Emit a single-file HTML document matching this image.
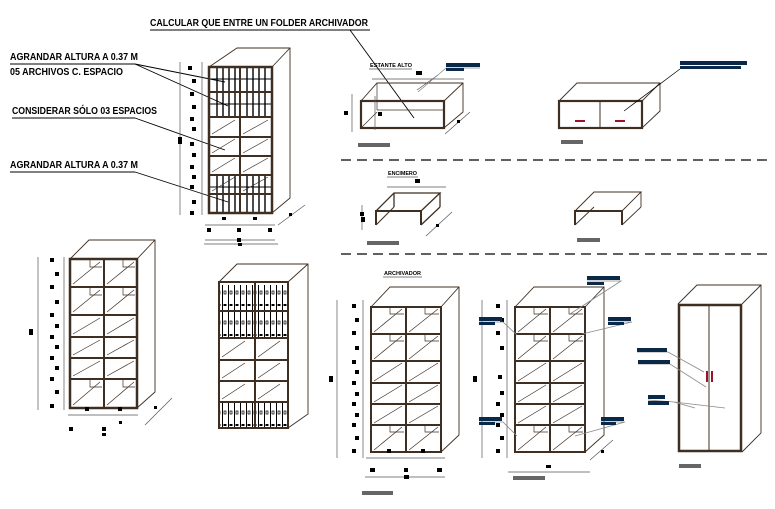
<!DOCTYPE html>
<html><head><meta charset="utf-8"><style>
html,body{margin:0;padding:0;background:#fff;width:775px;height:509px;overflow:hidden}
svg{display:block}
text{font-family:"Liberation Sans",sans-serif;font-weight:bold;fill:#000}
</style></head><body>
<svg width="775" height="509" viewBox="0 0 775 509" xmlns="http://www.w3.org/2000/svg">
<defs>
<pattern id="bind" width="6" height="30" patternUnits="userSpaceOnUse">
<rect x="0" y="0" width="6" height="30" fill="#fff"/>
<line x1="0.5" y1="0" x2="0.5" y2="30" stroke="#000" stroke-width="1"/>
<rect x="1.5" y="4" width="3" height="2" fill="#000"/>
<rect x="2" y="21" width="2" height="3" fill="none" stroke="#000" stroke-width="0.7"/>
</pattern>
<pattern id="bars" width="6" height="60" patternUnits="userSpaceOnUse">
<line x1="1" y1="0" x2="1" y2="60" stroke="#000" stroke-width="1.4"/>
</pattern>
</defs>
<text x="150" y="26" font-size="10" textLength="218" lengthAdjust="spacingAndGlyphs">CALCULAR QUE ENTRE UN FOLDER ARCHIVADOR</text>
<line x1="150" y1="30" x2="370" y2="30" stroke="#000"/>
<text x="10" y="60" font-size="10" textLength="128" lengthAdjust="spacingAndGlyphs">AGRANDAR ALTURA A 0.37 M</text>
<line x1="10" y1="64" x2="135" y2="64" stroke="#000"/>
<text x="10" y="75" font-size="10" textLength="113" lengthAdjust="spacingAndGlyphs">05 ARCHIVOS C. ESPACIO</text>
<text x="12" y="114" font-size="10" textLength="145" lengthAdjust="spacingAndGlyphs">CONSIDERAR SÓLO 03 ESPACIOS</text>
<line x1="12" y1="118" x2="135" y2="118" stroke="#000"/>
<text x="10" y="168" font-size="10" textLength="128" lengthAdjust="spacingAndGlyphs">AGRANDAR ALTURA A 0.37 M</text>
<line x1="10" y1="172" x2="135" y2="172" stroke="#000"/>
<g stroke="#000" stroke-width="0.9">
<line x1="135" y1="64" x2="225" y2="82"/>
<line x1="135" y1="64" x2="228" y2="106"/>
<line x1="135" y1="118" x2="225" y2="150"/>
<line x1="135" y1="172" x2="228" y2="202"/>
<line x1="350" y1="30" x2="414" y2="118"/>
</g>

<g stroke="#000" stroke-width="1.2" stroke-dasharray="10,6">
<line x1="341" y1="160" x2="768" y2="160"/>
<line x1="341" y1="254" x2="768" y2="254"/>
</g>

<g font-size="5">
<text x="370" y="67" textLength="42" lengthAdjust="spacingAndGlyphs">ESTANTE ALTO</text>
<text x="388" y="175" textLength="29" lengthAdjust="spacingAndGlyphs">ENCIMERO</text>
<text x="384" y="275" textLength="37" lengthAdjust="spacingAndGlyphs">ARCHIVADOR</text>
</g>
<g stroke="#000" stroke-width="0.6">
<line x1="369" y1="69" x2="412" y2="69"/>
<line x1="387" y1="177" x2="418" y2="177"/>
<line x1="383" y1="277" x2="422" y2="277"/>
</g>

<!-- Cabinet 1 -->
<g stroke="#3f2f22" fill="none">
<polyline points="209,67 237,48 290,48 290,198 272,213" stroke-width="0.9"/>
<line x1="272" y1="67" x2="290" y2="48" stroke-width="0.9"/>
</g>
<rect x="212" y="68" width="26" height="48" fill="url(#bars)"/>
<rect x="243" y="68" width="27" height="48" fill="url(#bars)"/>
<rect x="212" y="176" width="26" height="37" fill="url(#bars)"/>
<rect x="243" y="176" width="27" height="37" fill="url(#bars)"/>
<g stroke="#000" stroke-width="1"><line x1="209" y1="79" x2="272" y2="79"/><line x1="209" y1="104" x2="272" y2="104"/><line x1="209" y1="187" x2="272" y2="187"/></g>
<g stroke="#3f2f22" fill="none">
<rect x="209" y="67" width="63" height="146" stroke-width="2.5"/>
<line x1="240" y1="67" x2="240" y2="213" stroke-width="2"/>
<g stroke-width="2"><line x1="209" y1="92" x2="272" y2="92"/><line x1="209" y1="117" x2="272" y2="117"/><line x1="209" y1="137" x2="272" y2="137"/><line x1="209" y1="156" x2="272" y2="156"/><line x1="209" y1="175" x2="272" y2="175"/><line x1="209" y1="194" x2="272" y2="194"/></g>
<g stroke-width="0.7"><line x1="212" y1="134" x2="235" y2="120"/><line x1="243" y1="134" x2="268" y2="120"/><line x1="212" y1="153" x2="235" y2="139"/><line x1="243" y1="153" x2="268" y2="139"/><line x1="212" y1="172" x2="235" y2="158"/><line x1="243" y1="172" x2="268" y2="158"/><line x1="212" y1="191" x2="235" y2="177"/><line x1="243" y1="191" x2="268" y2="177"/></g>
</g>
<g stroke="#555" stroke-width="0.7">
<line x1="180" y1="62" x2="180" y2="215"/><line x1="202" y1="62" x2="202" y2="215"/>
<line x1="205" y1="225" x2="275" y2="225"/><line x1="205" y1="240" x2="275" y2="240"/>
<line x1="278" y1="225" x2="305" y2="205"/>
</g>
<g fill="#000">
<rect x="188" y="66" width="4" height="4"/><rect x="192" y="79" width="4" height="4"/><rect x="190" y="92" width="4" height="4"/><rect x="192" y="105" width="4" height="4"/><rect x="190" y="117" width="4" height="4"/><rect x="192" y="127" width="4" height="4"/><rect x="178" y="137" width="4" height="7"/><rect x="190" y="142" width="4" height="4"/><rect x="192" y="153" width="4" height="4"/><rect x="190" y="165" width="4" height="4"/><rect x="192" y="175" width="4" height="4"/><rect x="190" y="185" width="4" height="4"/><rect x="192" y="200" width="4" height="4"/><rect x="190" y="211" width="4" height="4"/>
<rect x="222" y="217" width="4" height="3"/><rect x="253" y="217" width="4" height="3"/>
<rect x="207" y="228" width="4" height="4"/><rect x="237" y="228" width="4" height="4"/><rect x="268" y="228" width="4" height="4"/><rect x="237" y="238" width="4" height="4"/><rect x="289" y="213" width="3" height="3"/>
</g>

<!-- Cabinet 2 -->
<g stroke="#3f2f22" fill="none">
<polyline points="70,259 89,240 155,240 155,392 137,408" stroke-width="0.9"/>
<line x1="137" y1="259" x2="155" y2="240" stroke-width="0.9"/>
<rect x="70" y="259" width="67" height="149" stroke-width="2.5"/>
<line x1="104" y1="259" x2="104" y2="408" stroke-width="2"/>
<g stroke-width="2"><line x1="70" y1="287" x2="137" y2="287"/><line x1="70" y1="315" x2="137" y2="315"/><line x1="70" y1="337" x2="137" y2="337"/><line x1="70" y1="358" x2="137" y2="358"/><line x1="70" y1="379" x2="137" y2="379"/></g>
<g stroke-width="0.7"><line x1="73" y1="284" x2="100" y2="262"/><line x1="107" y1="284" x2="134" y2="262"/><line x1="73" y1="312" x2="100" y2="290"/><line x1="107" y1="312" x2="134" y2="290"/><line x1="73" y1="334" x2="100" y2="318"/><line x1="107" y1="334" x2="134" y2="318"/><line x1="73" y1="355" x2="100" y2="340"/><line x1="107" y1="355" x2="134" y2="340"/><line x1="73" y1="376" x2="100" y2="361"/><line x1="107" y1="376" x2="134" y2="361"/><line x1="73" y1="405" x2="100" y2="382"/><line x1="107" y1="405" x2="134" y2="382"/>
<polyline points="90,260 90,267 102,267"/><polyline points="123,260 123,267 135,267"/><polyline points="90,288 90,295 102,295"/><polyline points="123,288 123,295 135,295"/><polyline points="90,380 90,387 102,387"/><polyline points="123,380 123,387 135,387"/></g>
</g>
<g stroke="#555" stroke-width="0.7"><line x1="38" y1="257" x2="38" y2="410"/><line x1="64" y1="257" x2="64" y2="410"/><line x1="68" y1="415" x2="138" y2="415"/><line x1="145" y1="425" x2="172" y2="398"/></g>
<g fill="#000"><rect x="50" y="258" width="4" height="4"/><rect x="55" y="272" width="4" height="4"/><rect x="50" y="285" width="4" height="4"/><rect x="55" y="300" width="4" height="4"/><rect x="50" y="313" width="4" height="4"/><rect x="29" y="329" width="4" height="6"/><rect x="55" y="324" width="4" height="4"/><rect x="50" y="335" width="4" height="4"/><rect x="55" y="345" width="4" height="4"/><rect x="50" y="356" width="4" height="4"/><rect x="55" y="366" width="4" height="4"/><rect x="50" y="377" width="4" height="4"/><rect x="55" y="390" width="4" height="4"/><rect x="50" y="404" width="4" height="4"/><rect x="85" y="407" width="4" height="4"/><rect x="118" y="407" width="4" height="4"/><rect x="69" y="427" width="4" height="4"/><rect x="102" y="427" width="4" height="4"/><rect x="102" y="433" width="4" height="3"/><rect x="119" y="421" width="3" height="3"/><rect x="154" y="406" width="3" height="3"/></g>

<!-- Cabinet 3 -->
<g stroke="#555" stroke-width="0.7"><line x1="204" y1="244" x2="278" y2="244"/></g>
<rect x="238" y="243" width="4" height="3" fill="#000"/>
<g stroke="#3f2f22" fill="none">
<polyline points="219,282 237,264 308,264 308,414 288,428" stroke-width="0.9"/>
<line x1="288" y1="282" x2="308" y2="264" stroke-width="0.9"/>
</g>
<rect x="220" y="285" width="34" height="25" fill="url(#bind)"/><rect x="256" y="285" width="32" height="25" fill="url(#bind)"/>
<rect x="220" y="312" width="34" height="25" fill="url(#bind)"/><rect x="256" y="312" width="32" height="25" fill="url(#bind)"/>
<rect x="220" y="403" width="34" height="25" fill="url(#bind)"/><rect x="256" y="403" width="32" height="25" fill="url(#bind)"/>
<g stroke="#3f2f22" fill="none">
<rect x="219" y="282" width="69" height="146" stroke-width="2"/>
<line x1="255" y1="282" x2="255" y2="428" stroke-width="2"/>
<g stroke-width="2"><line x1="219" y1="311" x2="288" y2="311"/><line x1="219" y1="338" x2="288" y2="338"/><line x1="219" y1="360" x2="288" y2="360"/><line x1="219" y1="381" x2="288" y2="381"/><line x1="219" y1="402" x2="288" y2="402"/></g>
<g stroke-width="0.7"><line x1="222" y1="357" x2="245" y2="341"/><line x1="258" y1="357" x2="280" y2="341"/><line x1="222" y1="378" x2="245" y2="363"/><line x1="258" y1="378" x2="280" y2="363"/><line x1="222" y1="399" x2="245" y2="384"/><line x1="258" y1="399" x2="280" y2="384"/></g>
</g>

<!-- Estante alto -->
<g stroke="#3f2f22" fill="none">
<polyline points="361,101 377,83 463,83 463,112 444,128" stroke-width="0.9"/>
<line x1="444" y1="101" x2="463" y2="83" stroke-width="0.9"/>
<line x1="361" y1="128" x2="377" y2="112" stroke-width="0.7"/><line x1="377" y1="83" x2="377" y2="110" stroke-width="0.7"/><line x1="377" y1="110" x2="444" y2="110" stroke-width="0.7"/>
<rect x="361" y="101" width="83" height="27" stroke-width="2.2"/>
<polyline points="559,101 577,83 660,83 660,111 642,128" stroke-width="0.9"/>
<line x1="642" y1="101" x2="660" y2="83" stroke-width="0.9"/>
<rect x="559" y="101" width="83" height="27" stroke-width="2.2"/>
<line x1="600" y1="101" x2="600" y2="128" stroke-width="1"/>
</g>
<g stroke="#555" stroke-width="0.7"><line x1="352" y1="94" x2="352" y2="132"/><line x1="372" y1="79" x2="464" y2="79"/><line x1="445" y1="134" x2="470" y2="112"/><line x1="417" y1="90" x2="438" y2="75"/><line x1="375" y1="96" x2="375" y2="130"/></g>
<g stroke="#000" stroke-width="0.7"><line x1="624" y1="111" x2="680" y2="69"/></g>
<g fill="#000"><rect x="416" y="71" width="6" height="4"/><rect x="344" y="111" width="4" height="4"/><rect x="378" y="112" width="4" height="4"/><rect x="457" y="120" width="3" height="3"/></g>
<g fill="#a0102a"><rect x="575" y="120" width="10" height="2"/><rect x="615" y="120" width="10" height="2"/></g>

<!-- Encimero -->
<g stroke="#3f2f22" fill="none" stroke-width="2">
<polyline points="376,225 376,211 421,211 421,225"/>
<polyline points="376,211 394,193 440,193 421,211" stroke-width="1.3"/>
<line x1="440" y1="193" x2="440" y2="207" stroke-width="1.3"/><line x1="421" y1="225" x2="440" y2="207" stroke-width="1.3"/>
<line x1="376" y1="225" x2="394" y2="207" stroke-width="1"/><line x1="394" y1="193" x2="394" y2="207" stroke-width="1.3"/>
<polyline points="575,225 575,211 622,211 622,225"/>
<polyline points="575,211 594,192 641,192 622,211" stroke-width="0.9"/>
<line x1="641" y1="192" x2="641" y2="207" stroke-width="0.9"/><line x1="622" y1="225" x2="641" y2="207" stroke-width="0.9"/><line x1="575" y1="225" x2="594" y2="207" stroke-width="0.9"/>
</g>
<g stroke="#555" stroke-width="0.7"><line x1="387" y1="187" x2="446" y2="187"/><line x1="426" y1="236" x2="452" y2="212"/><line x1="362" y1="205" x2="362" y2="230"/></g>
<g fill="#000"><rect x="415" y="179" width="5" height="4"/><rect x="360" y="212" width="4" height="4"/><rect x="361" y="217" width="4" height="5"/><rect x="436" y="224" width="3" height="3"/></g>

<!-- Archivador 1 -->
<g stroke="#3f2f22" fill="none">
<polyline points="371,307 390,287 459,287 459,435 441,452" stroke-width="0.9"/>
<line x1="441" y1="307" x2="459" y2="287" stroke-width="0.9"/>
<rect x="371" y="307" width="70" height="145" stroke-width="2"/>
<line x1="406" y1="307" x2="406" y2="452" stroke-width="2"/>
<g stroke-width="2"><line x1="371" y1="334" x2="441" y2="334"/><line x1="371" y1="361" x2="441" y2="361"/><line x1="371" y1="383" x2="441" y2="383"/><line x1="371" y1="404" x2="441" y2="404"/><line x1="371" y1="425" x2="441" y2="425"/></g>
<g stroke-width="0.7"><line x1="374" y1="332" x2="402" y2="309"/><line x1="409" y1="332" x2="438" y2="309"/><line x1="374" y1="359" x2="402" y2="336"/><line x1="409" y1="359" x2="438" y2="336"/><line x1="374" y1="381" x2="402" y2="363"/><line x1="409" y1="381" x2="438" y2="363"/><line x1="374" y1="402" x2="402" y2="385"/><line x1="409" y1="402" x2="438" y2="385"/><line x1="374" y1="423" x2="402" y2="406"/><line x1="409" y1="423" x2="438" y2="406"/><line x1="374" y1="450" x2="402" y2="427"/><line x1="409" y1="450" x2="438" y2="427"/>
<polyline points="390,308 390,314 404,314"/><polyline points="425,308 425,314 439,314"/><polyline points="390,335 390,341 404,341"/><polyline points="425,335 425,341 439,341"/><polyline points="390,426 390,432 404,432"/><polyline points="425,426 425,432 439,432"/></g>
</g>
<g stroke="#555" stroke-width="0.7"><line x1="337" y1="300" x2="337" y2="458"/><line x1="363" y1="300" x2="363" y2="458"/><line x1="366" y1="458" x2="445" y2="458"/><line x1="365" y1="477" x2="445" y2="477"/></g>
<g fill="#000"><rect x="352" y="304" width="4" height="4"/><rect x="355" y="318" width="4" height="4"/><rect x="352" y="331" width="4" height="4"/><rect x="355" y="346" width="4" height="4"/><rect x="329" y="376" width="4" height="6"/><rect x="352" y="360" width="4" height="4"/><rect x="355" y="370" width="4" height="4"/><rect x="352" y="381" width="4" height="4"/><rect x="355" y="392" width="4" height="4"/><rect x="352" y="402" width="4" height="4"/><rect x="355" y="413" width="4" height="4"/><rect x="352" y="423" width="4" height="4"/><rect x="355" y="436" width="4" height="4"/><rect x="352" y="449" width="4" height="4"/><rect x="387" y="449" width="4" height="4"/><rect x="421" y="449" width="4" height="4"/><rect x="370" y="468" width="5" height="4"/><rect x="404" y="468" width="4" height="4"/><rect x="404" y="475" width="5" height="4"/><rect x="437" y="468" width="5" height="4"/></g>

<!-- Archivador 2 -->
<g stroke="#3f2f22" fill="none">
<polyline points="515,307 534,287 604,287 604,435 585,452" stroke-width="0.9"/>
<line x1="585" y1="307" x2="604" y2="287" stroke-width="0.9"/>
<rect x="515" y="307" width="70" height="145" stroke-width="2"/>
<line x1="550" y1="307" x2="550" y2="452" stroke-width="2"/>
<g stroke-width="2"><line x1="515" y1="334" x2="585" y2="334"/><line x1="515" y1="361" x2="585" y2="361"/><line x1="515" y1="383" x2="585" y2="383"/><line x1="515" y1="404" x2="585" y2="404"/><line x1="515" y1="425" x2="585" y2="425"/></g>
<g stroke-width="0.7"><line x1="518" y1="332" x2="546" y2="309"/><line x1="553" y1="332" x2="582" y2="309"/><line x1="518" y1="359" x2="546" y2="336"/><line x1="553" y1="359" x2="582" y2="336"/><line x1="518" y1="381" x2="546" y2="363"/><line x1="553" y1="381" x2="582" y2="363"/><line x1="518" y1="402" x2="546" y2="385"/><line x1="553" y1="402" x2="582" y2="385"/><line x1="518" y1="423" x2="546" y2="406"/><line x1="553" y1="423" x2="582" y2="406"/><line x1="518" y1="450" x2="546" y2="427"/><line x1="553" y1="450" x2="582" y2="427"/>
<polyline points="534,308 534,314 548,314"/><polyline points="569,308 569,314 583,314"/><polyline points="534,335 534,341 548,341"/><polyline points="569,335 569,341 583,341"/><polyline points="534,426 534,432 548,432"/><polyline points="569,426 569,432 583,432"/></g>
</g>
<g stroke="#555" stroke-width="0.7"><line x1="482" y1="300" x2="482" y2="458"/><line x1="507" y1="300" x2="507" y2="458"/><line x1="508" y1="472" x2="590" y2="472"/><line x1="590" y1="460" x2="613" y2="440"/></g>
<g fill="#000"><rect x="496" y="304" width="4" height="4"/><rect x="500" y="318" width="4" height="4"/><rect x="496" y="331" width="4" height="4"/><rect x="500" y="346" width="4" height="4"/><rect x="473" y="376" width="4" height="6"/><rect x="498" y="375" width="4" height="4"/><rect x="500" y="391" width="4" height="4"/><rect x="496" y="402" width="4" height="4"/><rect x="500" y="413" width="4" height="4"/><rect x="496" y="423" width="4" height="4"/><rect x="500" y="436" width="4" height="4"/><rect x="496" y="449" width="4" height="4"/><rect x="546" y="465" width="5" height="3"/><rect x="601" y="450" width="3" height="3"/></g>

<!-- Wardrobe -->
<g stroke="#3f2f22" fill="none">
<polyline points="678,304 697,285 761,285 761,433 742,452" stroke-width="0.9"/>
<line x1="742" y1="304" x2="761" y2="285" stroke-width="0.9"/>
<rect x="679" y="305" width="62" height="146" stroke-width="2.5"/>
<line x1="709" y1="305" x2="709" y2="451" stroke-width="1"/>
</g>
<g fill="#a0102a"><rect x="706" y="371" width="2" height="11"/><rect x="711" y="371" width="2" height="11"/></g>

<g stroke="#888" stroke-width="0.8" fill="none">
<polyline points="446,68 480,68"/><line x1="446" y1="68" x2="418" y2="92"/>
<polyline points="587,281 621,281 570,314"/>
<polyline points="479,322 503,322 517,335"/>
<polyline points="608,322 632,322 582,334"/>
<polyline points="479,422 503,422 517,436"/>
<polyline points="601,422 625,422 575,436"/>
<polyline points="637,352 668,352 704,372"/>
<polyline points="638,364 670,364 706,387"/>
<polyline points="648,400 674,402 695,408"/><line x1="674" y1="402" x2="725" y2="408"/>
</g>

<g fill="#0a2848">
<rect x="446" y="63" width="34" height="4"/><rect x="446" y="68" width="18" height="3"/>
<rect x="680" y="61" width="67" height="4"/><rect x="680" y="66" width="61" height="3"/>
<rect x="587" y="276" width="33" height="4"/><rect x="587" y="282" width="17" height="3"/>
<rect x="479" y="317" width="23" height="4"/><rect x="479" y="322" width="16" height="3"/>
<rect x="608" y="317" width="23" height="4"/><rect x="608" y="322" width="16" height="3"/>
<rect x="479" y="417" width="23" height="4"/><rect x="479" y="422" width="16" height="3"/>
<rect x="601" y="417" width="23" height="4"/><rect x="601" y="422" width="15" height="3"/>
<rect x="637" y="348" width="30" height="4"/>
<rect x="638" y="360" width="32" height="4"/>
<rect x="648" y="395" width="17" height="4"/><rect x="648" y="401" width="21" height="4"/>
</g>

<g fill="#666">
<rect x="358" y="143" width="32" height="4"/>
<rect x="561" y="140" width="22" height="4"/>
<rect x="367" y="241" width="32" height="4"/>
<rect x="577" y="238" width="23" height="4"/>
<rect x="362" y="491" width="31" height="4"/>
<rect x="513" y="476" width="32" height="4"/>
<rect x="679" y="464" width="22" height="4"/>
</g>
</svg>
</body></html>
